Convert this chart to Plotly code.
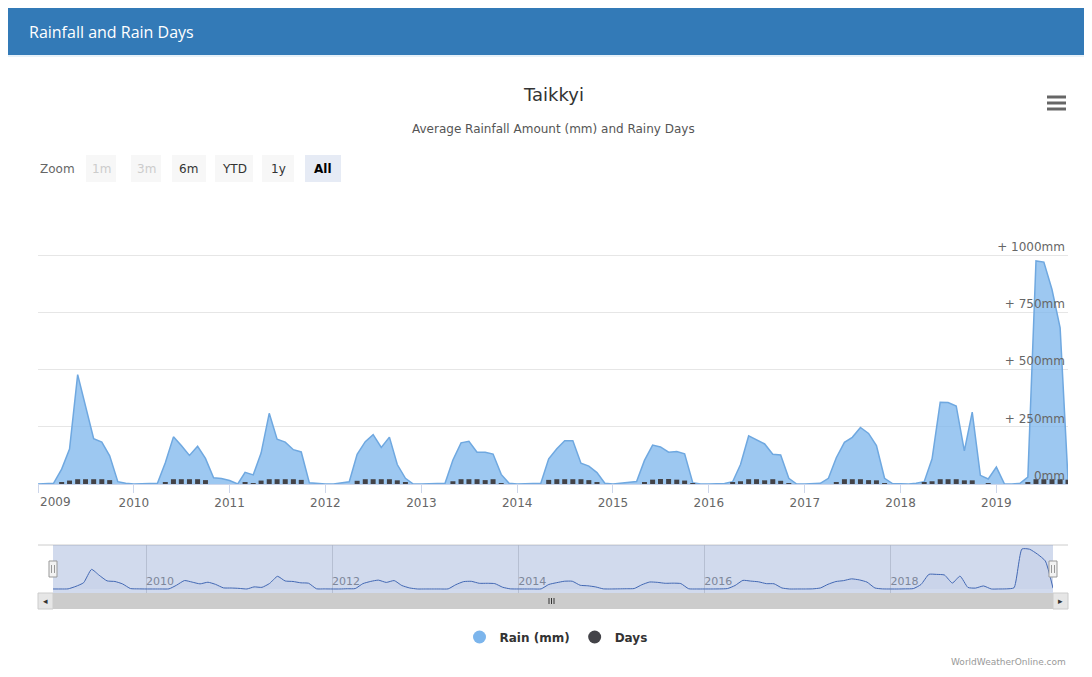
import pandas as pd
import plotly.graph_objects as go

# ---------------- data ----------------
rain_2009 = [0, 0, 3, 65, 153, 478, 335, 198, 183, 123, 10, 3]
rain_2010 = [0, 0, 0, 3, 93, 206, 168, 125, 165, 112, 27, 24]
rain_2011 = [15, 0, 51, 40, 135, 309, 196, 183, 150, 140, 5, 2]
rain_2012 = [0, 0, 6, 10, 130, 185, 216, 160, 205, 85, 25, 0]
rain_2013 = [0, 0, 0, 3, 105, 180, 187, 139, 139, 131, 42, 3]
rain_2014 = [0, 0, 0, 3, 110, 154, 189, 189, 91, 78, 50, 3]
rain_2015 = [0, 3, 6, 11, 103, 170, 162, 139, 142, 132, 6, 0]
rain_2016 = [0, 0, 2, 10, 85, 210, 193, 175, 130, 127, 25, 0]
rain_2017 = [0, 0, 3, 25, 115, 182, 204, 247, 221, 168, 25, 2]
rain_2018 = [0, 0, 3, 10, 110, 357, 356, 341, 145, 314, 38, 22]
rain_2019 = [74, 0, 0, 3, 30, 975, 970, 850, 683, 20]

days_2009 = [0, 0, 0, 7, 15, 21, 21, 21, 21, 17, 0, 0]
days_2010 = [0, 0, 0, 0, 6, 21, 21, 21, 21, 17, 0, 0]
days_2011 = [0, 0, 5, 2, 15, 21, 21, 21, 21, 18, 0, 0]
days_2012 = [0, 0, 0, 0, 14, 21, 21, 21, 21, 16, 6, 0]
days_2013 = [0, 0, 0, 0, 12, 21, 21, 21, 17, 21, 4, 0]
days_2014 = [0, 0, 0, 0, 18, 21, 21, 21, 21, 17, 5, 0]
days_2015 = [0, 0, 0, 0, 8, 19, 22, 22, 19, 15, 4, 0]
days_2016 = [0, 0, 0, 5, 12, 21, 21, 16, 21, 14, 4, 0]
days_2017 = [0, 0, 0, 0, 5, 21, 21, 21, 17, 16, 4, 0]
days_2018 = [0, 0, 0, 5, 12, 21, 21, 21, 16, 16, 0, 4]
days_2019 = [0, 0, 0, 0, 5, 21, 21, 21, 21, 19]

year_ticks = ["2009", "2010", "2011", "2012", "2013", "2014", "2015", "2016", "2017", "2018", "2019"]
navigator_ticks = ["2010", "2012", "2014", "2016", "2018"]
y_tick_values = [0, 250, 500, 750, 1000, 1250]
y_tick_labels = ["0mm", "+ 250mm", "+ 500mm", "+ 750mm", "+ 1000mm", ""]
zoom_buttons = ["1m", "3m", "6m", "YTD", "1y", "All"]

rain = (rain_2009 + rain_2010 + rain_2011 + rain_2012 + rain_2013 + rain_2014
        + rain_2015 + rain_2016 + rain_2017 + rain_2018 + rain_2019)
days = (days_2009 + days_2010 + days_2011 + days_2012 + days_2013 + days_2014
        + days_2015 + days_2016 + days_2017 + days_2018 + days_2019)
months = pd.date_range("2009-01-01", periods=len(rain), freq="MS")
month_str = [d.strftime("%Y-%m-%d") for d in months]
year_dates = [y + "-01-01" for y in year_ticks]
nav_dates = [y + "-01-01" for y in navigator_ticks]
# the first year label is left-aligned at the plot edge (as in the original), drawn separately
axis_ticktext = [""] + year_ticks[1:]

# ---------------- geometry helpers (screen pixels -> paper) ----------------
W, H = 1084, 669
OX, OY = 8, 8


def X(px):
    return (px - OX) / W


def Y(py):
    return 1 - (py - OY) / H


FONT = "DejaVu Sans"
fig = go.Figure()

fig.add_trace(go.Scatter(
    x=month_str, y=rain, mode="lines", fill="tozeroy",
    fillcolor="rgba(124,181,236,0.75)", line=dict(color="#6fa8e0", width=1.5),
    xaxis="x", yaxis="y", showlegend=False, name="Rain (mm)"))
fig.add_trace(go.Bar(
    x=month_str, y=days, width=19 * 86400000, marker=dict(color="#434348", line_width=0),
    xaxis="x", yaxis="y3", showlegend=False, name="Days"))
fig.add_trace(go.Scatter(
    x=month_str, y=rain, mode="lines", fill="tozeroy", fillcolor="rgba(51,92,173,0.05)",
    line=dict(color="#335cad", width=1, shape="spline", smoothing=0.5),
    xaxis="x2", yaxis="y2", showlegend=False, hoverinfo="skip"))
fig.add_trace(go.Scatter(x=[None], y=[None], mode="markers", name="Rain (mm)",
                         marker=dict(size=13, color="#7cb5ec"), xaxis="x", yaxis="y"))
fig.add_trace(go.Scatter(x=[None], y=[None], mode="markers", name="Days",
                         marker=dict(size=13, color="#434348"), xaxis="x", yaxis="y"))

x_range = ["2008-12-31 20:00", month_str[-1]]

shapes = []
annotations = []


def rect(x0, x1, y0, y1, fill, line=None, layer="below"):
    shapes.append(dict(type="rect", xref="paper", yref="paper", x0=X(x0), x1=X(x1), y0=Y(y1), y1=Y(y0),
                       fillcolor=fill, line=line or dict(width=0), layer=layer))


def hline(x0, x1, y, color, width=1, layer="above"):
    shapes.append(dict(type="line", xref="paper", yref="paper", x0=X(x0), x1=X(x1), y0=Y(y), y1=Y(y),
                       line=dict(color=color, width=width), layer=layer))


def vline(x, y0, y1, color, width=1, layer="above"):
    shapes.append(dict(type="line", xref="paper", yref="paper", x0=X(x), x1=X(x), y0=Y(y0), y1=Y(y1),
                       line=dict(color=color, width=width), layer=layer))


def text(t, x, y, size, color, anchor="center", family=FONT):
    annotations.append(dict(text=t, xref="paper", yref="paper", x=X(x), y=Y(y), xanchor=anchor,
                            yanchor="middle", showarrow=False,
                            font=dict(family=family, size=size, color=color)))


# header bar
rect(8, 1092, 8, 55, "#337ab7")
hline(8, 1092, 56, "#cfe3f2", 1, "below")
text("Rainfall and Rain Days", 27, 32, 16, "white", "left", "Open Sans")

# titles
text("Taikkyi", 553, 95, 18, "#333333")
text("Average Rainfall Amount (mm) and Rainy Days", 553, 129, 12, "#555555")

# hamburger icon
for yy in (97, 103, 109):
    hline(1047, 1066, yy, "#666666", 3)

# zoom row
text("Zoom", 38, 169, 12, "#666666", "left")
btn_centers = [101, 146, 189, 234, 278, 323]
btn_widths = [30, 30, 34, 38, 32, 36]
for label, cx, bw in zip(zoom_buttons, btn_centers, btn_widths):
    selected = label == "All"
    disabled = label in ("1m", "3m")
    rect(cx - bw / 2, cx + bw / 2, 155, 182, "#e6ebf5" if selected else "#f7f7f7")
    text(("<b>%s</b>" % label) if selected else label, cx, 169, 12,
         "#cccccc" if disabled else ("#000000" if selected else "#333333"))

# first x-axis year label, left-aligned at its tick
annotations.append(dict(text=year_ticks[0], xref="x", yref="paper", x=year_dates[0], y=Y(502),
                        xanchor="left", yanchor="middle", showarrow=False,
                        font=dict(family=FONT, size=12, color="#666666")))

# navigator decorations
hline(38, 1068, 545, "#cccccc", 1)
rect(53, 1053, 545, 593, "rgba(102,133,194,0.3)", layer="above")
rect(38, 1068, 593, 609, "#f2f2f2", layer="above")
rect(53, 1053, 593, 609, "#cccccc", layer="above")
for bx0 in (38, 1053):
    rect(bx0, bx0 + 15, 593, 609, "#e6e6e6", dict(color="#cccccc", width=1), layer="above")
text("◂", 45.5, 601, 9, "#333333")
text("▸", 1060.5, 601, 9, "#333333")
for gx in (549, 551.5, 554):
    vline(gx, 598, 604, "#333333", 1)
for hx in (53, 1053):
    rect(hx - 4, hx + 4, 561, 577, "#f2f2f2", dict(color="#999999", width=1), layer="above")
    for lx in (hx - 1.5, hx + 1.5):
        vline(lx, 565, 573, "#999999", 1)

# credits
text("WorldWeatherOnline.com", 1068, 662, 9, "#999999", "right")

fig.update_layout(
    width=W, height=H, autosize=False,
    margin=dict(l=0, r=0, t=0, b=0, pad=0),
    paper_bgcolor="white", plot_bgcolor="rgba(0,0,0,0)",
    font=dict(family=FONT, color="#333333"),
    hovermode=False,
    barmode="overlay",
    xaxis=dict(domain=[X(38), X(1068)], range=x_range, type="date", anchor="y",
               tickmode="array", tickvals=year_dates, ticktext=axis_ticktext,
               ticks="outside", ticklen=8, tickcolor="#ccd6eb", ticklabeloverflow="allow",
               showline=True, linecolor="#ccd6eb", linewidth=1, showgrid=False, zeroline=False,
               tickfont=dict(family=FONT, size=12, color="#666666")),
    yaxis=dict(domain=[Y(484), Y(198)], range=[0, 1250], anchor="x", side="right",
               tickmode="array", tickvals=y_tick_values, ticktext=y_tick_labels,
               ticklabelposition="inside top", showgrid=True, gridcolor="#e6e6e6", gridwidth=1,
               zeroline=False, showline=False, ticks="",
               tickfont=dict(family=FONT, size=12, color="#666666")),
    yaxis3=dict(range=[0, 1250], overlaying="y", anchor="x", side="left", visible=False,
                showgrid=False, zeroline=False),
    xaxis2=dict(domain=[X(53), X(1053)], range=x_range, type="date", anchor="y2",
                tickmode="array", tickvals=nav_dates, ticktext=navigator_ticks,
                ticklabelposition="inside right", ticks="", showline=False,
                showgrid=True, gridcolor="#d8d8d8", zeroline=False,
                tickfont=dict(family=FONT, size=11, color="#888888")),
    yaxis2=dict(domain=[Y(593), Y(545)], range=[-98, 1073], anchor="x2",
                showgrid=False, zeroline=False, showticklabels=False, ticks=""),
    legend=dict(orientation="h", x=X(556), xanchor="center", y=Y(637), yanchor="middle",
                font=dict(family=FONT, size=12, color="#333333", weight="bold"),
                bgcolor="rgba(0,0,0,0)", itemclick=False, itemdoubleclick=False),
    shapes=shapes,
    annotations=annotations,
)

fig.write_html("out.html", config={"displayModeBar": False, "responsive": False})
